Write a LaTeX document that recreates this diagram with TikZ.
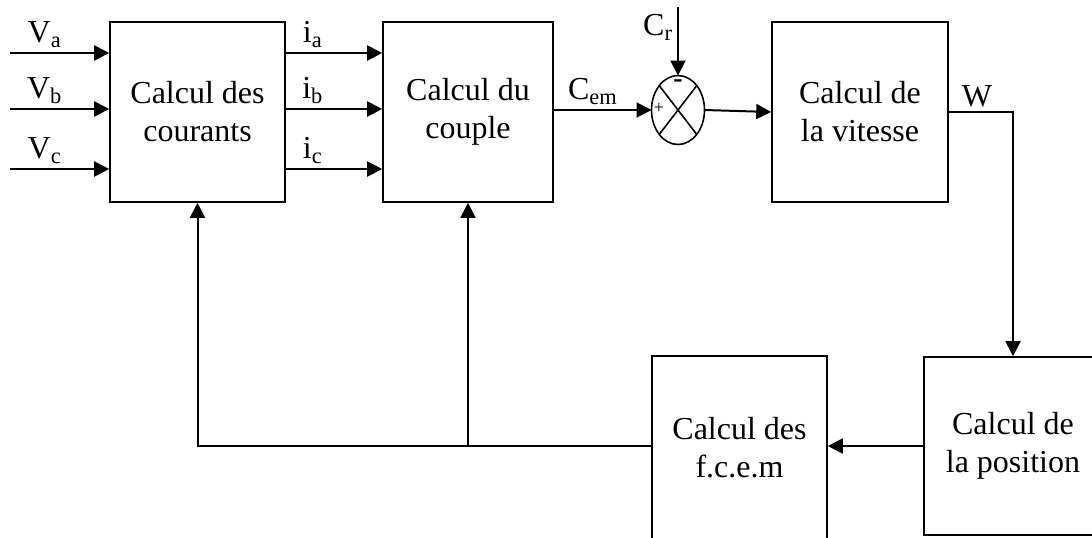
\documentclass[tikz,border=0pt]{standalone}
\usepackage{fontspec}
\setmainfont{Liberation Serif}
\usepackage{tikz}
\usetikzlibrary{arrows.meta,positioning,shapes.geometric,calc}

\begin{document}
\begin{tikzpicture}[x=0.5pt, y=-0.5pt, >={Triangle[length=7.5pt,width=7.5pt]},
 font=\fontsize{16}{19}\selectfont,
 blk/.style={draw, rectangle, line width=0.8pt, align=center, inner sep=2pt},
 sumpt/.style={draw, ellipse, line width=0.8pt, minimum width=26.5pt, minimum height=34.5pt, inner sep=0pt, outer sep=0pt},
 sig/.style={->, line width=1pt},
 lab/.style={inner sep=2pt}]
\useasboundingbox (0,0) rectangle (1092,537);
\clip (0,0) rectangle (1092,537);
\node[blk, minimum width=87.5pt, minimum height=90pt] (cour) at (197.5,112) {Calcul des\\courants};
\node[blk, minimum width=85pt,   minimum height=90pt] (cpl)  at (468,112)   {Calcul du\\couple};
\node[sumpt] (sum) at (678,110) {};
\node[blk, minimum width=88pt,   minimum height=90pt] (vit)  at (860,112)   {Calcul de\\la vitesse};
\node[blk, minimum width=89pt,   minimum height=89pt] (pos)  at (1013,446)  {Calcul de\\la position};
\node[blk, minimum width=87.5pt, minimum height=92pt] (fcem) at (739.5,448) {Calcul des\\f.c.e.m};
% summing point
\draw[line width=0.8pt] (sum.north west) -- (sum.south east);
\draw[line width=0.8pt] (sum.north east) -- (sum.south west);
\node[font=\fontsize{9}{9}\selectfont, inner sep=0pt] (plus) at (659,108) {+};
\node[font=\fontsize{14}{14}\bfseries, inner sep=0pt] (minus) at (678,84) {-};
% inputs and currents
\foreach \s/\y in {a/53,b/109,c/169} {
  \coordinate (in\s) at (10,\y);
  \draw[sig] (in\s) -- node[lab, above, pos=.35] (lv\s) {V\textsubscript{\s}} (in\s -| cour.west);
  \draw[sig] (in\s -| cour.east) -- node[lab, above, pos=.28] (li\s) {i\textsubscript{\s}} (in\s -| cpl.west);
}
\coordinate (cr) at (678,7);
\draw[sig] (sum.west -| cpl.east) -- node[lab, above, pos=.4] (lcem) {C\textsubscript{em}} (sum.west);
\draw[sig] (cr) -- node[lab, left, pos=.3] (lcr) {C\textsubscript{r}} (sum.north);
\draw[sig] (sum.east) -- (vit.west);
\draw[sig] (vit.east) -| node[lab, above, pos=.22] (lw) {W} (pos.north);
% feedback
\draw[sig] (pos.west) -- (pos.west -| fcem.east);
\draw[sig] (pos.west -| fcem.west) -| (cour.south);
\draw[sig] (pos.west -| cpl.south) -- (cpl.south);
\end{tikzpicture}
\end{document}
